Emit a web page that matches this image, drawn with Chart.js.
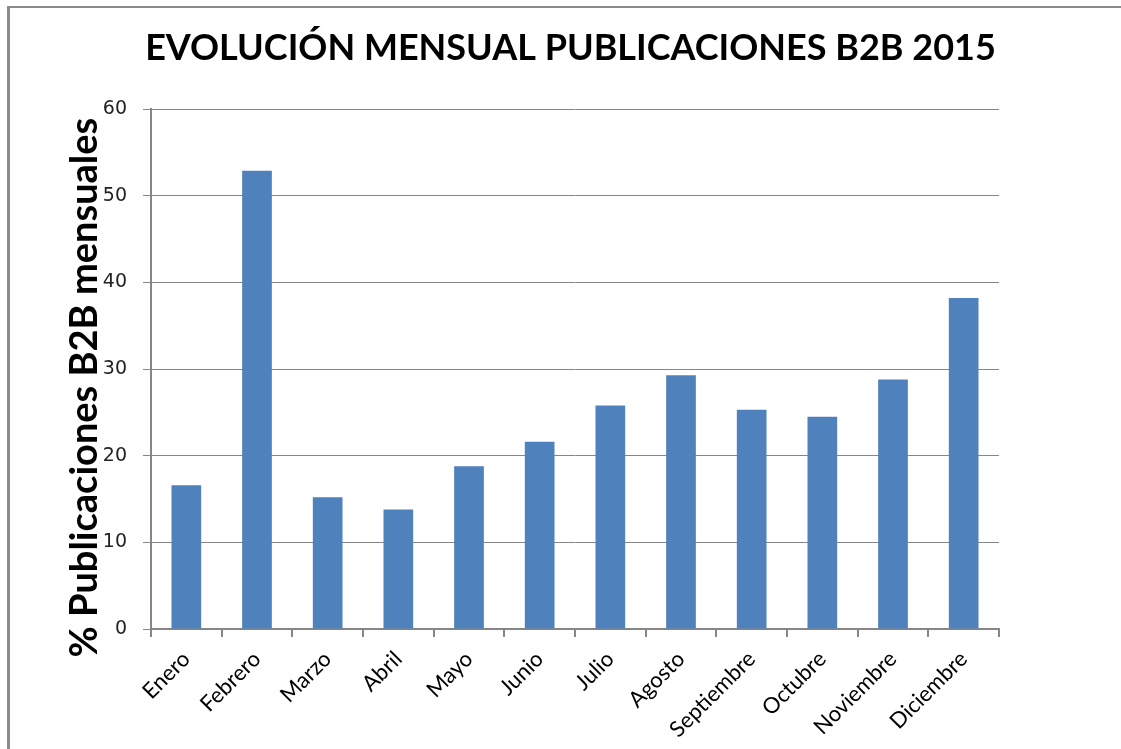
<!DOCTYPE html>
<html>
<head>
<meta charset="utf-8">
<script src="https://cdn.jsdelivr.net/npm/chart.js@4/dist/chart.umd.min.js"></script>
<style>
  html, body { margin: 0; padding: 0; background: #ffffff; }
  #wrap { position: relative; width: 1121px; height: 749px; }
</style>
</head>
<body>
<div id="wrap"><canvas id="chart" width="1121" height="749"></canvas></div>
<script>
// Monthly share of B2B publications
const months = ['Enero', 'Febrero', 'Marzo', 'Abril', 'Mayo', 'Junio', 'Julio',
                'Agosto', 'Septiembre', 'Octubre', 'Noviembre', 'Diciembre'];
const publicaciones = [16.6, 52.9, 15.2, 13.8, 18.8, 21.6, 25.8, 29.3, 25.3, 24.5, 28.8, 38.2];
const yTicks = [0, 10, 20, 30, 40, 50, 60];

const axisGray = '#868686';

// white background and the grey frame round the chart
const framePlugin = {
    id: 'frame',
    beforeDraw(chart) {
        const ctx = chart.ctx;
        ctx.save();
        ctx.fillStyle = '#ffffff';
        ctx.fillRect(0, 0, chart.width, chart.height);
        ctx.fillStyle = '#8a8a8a';
        ctx.fillRect(7, 6, chart.width - 7, 2);   // top edge
        ctx.fillRect(7, 6, 3, chart.height - 6);  // left edge
        ctx.restore();
    }
};

new Chart(document.getElementById('chart').getContext('2d'), {
    type: 'bar',
    data: {
        labels: months,
        datasets: [{
            label: '% Publicaciones B2B mensuales',
            data: publicaciones,
            backgroundColor: '#4F81BD',
            barPercentage: 0.42,
            categoryPercentage: 1.0
        }]
    },
    options: {
        responsive: false,
        animation: false,
        layout: { padding: { left: 20, right: 0, top: 0, bottom: 0 } },
        plugins: {
            legend: { display: false },
            tooltip: { enabled: false },
            title: {
                display: true,
                text: 'EVOLUCIÓN MENSUAL PUBLICACIONES B2B 2015',
                color: '#000000',
                font: { family: 'Lato', size: 36, weight: 'bold' },
                padding: { top: 27, bottom: 39 },
                align: 'center'
            }
        },
        scales: {
            x: {
                grid: {
                    display: true,
                    drawOnChartArea: false,
                    drawTicks: true,
                    offset: true,
                    tickLength: 8,
                    color: axisGray,
                    lineWidth: 2
                },
                border: { color: axisGray, width: 2 },
                ticks: {
                    autoSkip: false,
                    minRotation: 45,
                    maxRotation: 45,
                    padding: 9,
                    color: '#000000',
                    font: { family: 'Lato', size: 22 }
                },
                afterFit(scale) { scale.height = 120; }
            },
            y: {
                min: 0,
                max: 60,
                afterBuildTicks(scale) { scale.ticks = yTicks.map(v => ({ value: v })); },
                grid: { color: axisGray, lineWidth: 1, tickLength: 8 },
                border: { color: axisGray, width: 2 },
                ticks: {
                    padding: 16,
                    color: '#222222',
                    font: { family: 'DejaVu Sans', size: 19 }
                },
                title: {
                    display: true,
                    text: '% Publicaciones B2B mensuales    ',
                    color: '#000000',
                    font: { family: 'Lato', size: 38, weight: 'bold' },
                    padding: { top: 42, bottom: 0 }
                },
                afterFit(scale) { scale.width = 131; }
            },
            // empty right-hand axis keeps the plot narrower than the title row
            yRight: {
                position: 'right',
                display: true,
                grid: { display: false },
                border: { display: false },
                ticks: { display: false },
                afterFit(scale) { scale.width = 122; }
            }
        }
    },
    plugins: [framePlugin]
});
</script>
</body>
</html>
